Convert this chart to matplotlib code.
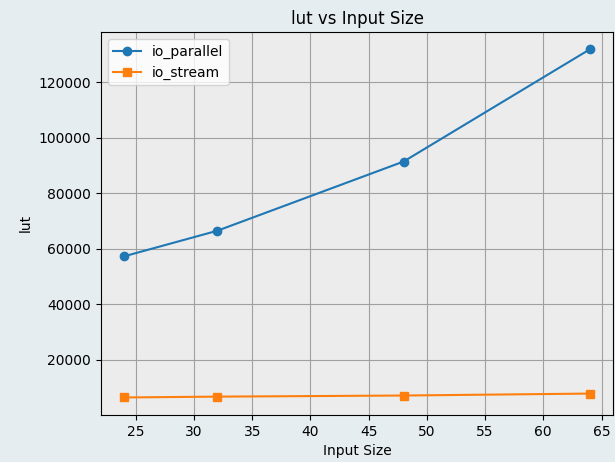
import matplotlib.pyplot as plt

# donnees
input_size = [24, 32, 48, 64]
io_parallel = [57300, 66500, 91400, 131800]
io_stream = [6500, 6800, 7200, 7900]

fig = plt.figure(figsize=(6.15, 4.62), dpi=100, facecolor='#e6edf1')
ax = fig.add_axes([0.164, 0.102, 0.833, 0.829])
ax.set_facecolor('#ececec')

ax.plot(input_size, io_parallel, marker='o', label='io_parallel')
ax.plot(input_size, io_stream, marker='s', label='io_stream')

ax.set_title('lut vs Input Size')
ax.set_xlabel('Input Size')
ax.set_ylabel('lut')
ax.grid(True, color='#a0a0a0')
ax.legend(loc='upper left')

fig.savefig('out.png', dpi=100, facecolor=fig.get_facecolor())
